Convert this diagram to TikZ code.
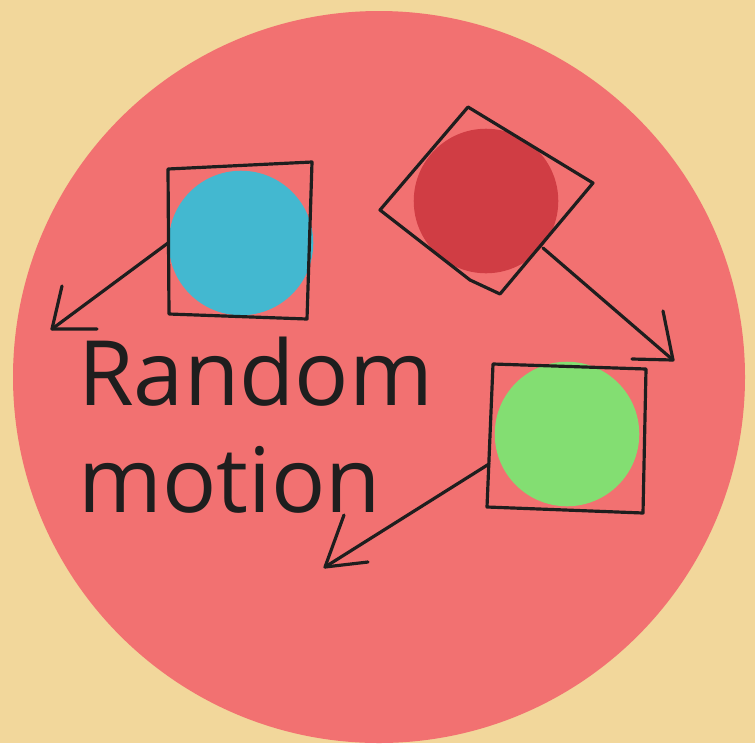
\documentclass[tikz,border=0pt]{standalone}
\usepackage{fontspec}
\setmainfont{Open Sans}
\usetikzlibrary{positioning}

\definecolor{sand}{HTML}{F2D79B}
\definecolor{arena}{HTML}{F27171}
\definecolor{ballblue}{HTML}{43B8D0}
\definecolor{ballred}{HTML}{D03D44}
\definecolor{ballgreen}{HTML}{83DE72}
\definecolor{ink}{HTML}{1E1E1E}

\begin{document}
\begin{tikzpicture}[
  x=0.0265cm, y=-0.0265cm,
  ball/.style={circle, minimum size=109pt, inner sep=0pt},
  pen/.style={draw=ink, line width=2.4pt, line join=round, line cap=round},
  label/.style={font=\fontsize{68}{80.5}\selectfont, text=ink, align=left, inner sep=0pt}
]
\useasboundingbox[fill=sand] (0,0) rectangle (755,743);
\fill[arena] (379,377) circle[radius=366];

% particles
\node[ball, fill=ballblue] (blue) at (241,243) {};
\node[ball, fill=ballred] (red) at (486,201) {};
\node[ball, fill=ballgreen] (green) at (567,434) {};

% boxes round the particles
\draw[pen] (168,169) -- (312,162) -- (307,319) -- (169,314) -- cycle;
\draw[pen] (468,107) -- (593,183) -- (500,294) -- (470,280) -- (380,210) -- cycle;
\draw[pen] (493,364) -- (646,369) -- (643,513) -- (487,507) -- cycle;

% where the particles go
\coordinate (bluefrom) at (168,243);
\coordinate (bluetip) at (52,329);
\coordinate (redfrom) at (543,248);
\coordinate (redtip) at (673,360);
\coordinate (greenfrom) at (489,464);
\coordinate (greentip) at (325,567);

\draw[pen] (bluefrom) -- (bluetip);
\draw[pen] (62,286) -- (bluetip) -- (97,329);
\draw[pen] (redfrom) -- (redtip);
\draw[pen] (663,311) -- (redtip) -- (632,359);
\draw[pen] (greenfrom) -- (greentip);
\draw[pen] (344,515) -- (greentip) -- (368,562);

\node[label, anchor=base west] (title) at (78,512) {Random\\motion};
\end{tikzpicture}
\end{document}
